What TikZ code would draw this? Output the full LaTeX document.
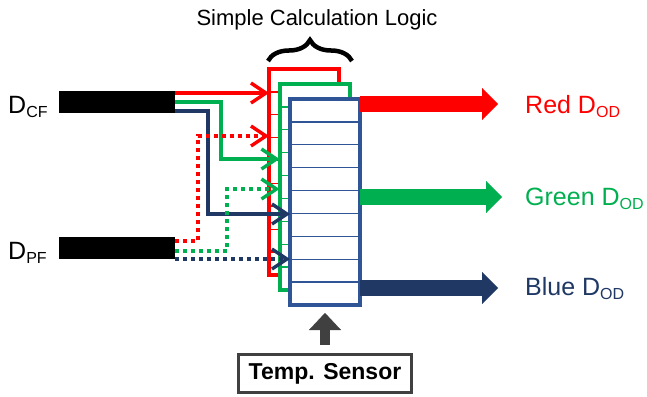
\documentclass[tikz,border=0pt]{standalone}
\usepackage{fontspec}
\setmainfont{Liberation Sans}
\usetikzlibrary{arrows.meta,calc,decorations.pathreplacing}
\definecolor{cred}{HTML}{FF0000}
\definecolor{cgreen}{HTML}{00B050}
\definecolor{cnavy}{HTML}{1F3864}
\definecolor{cbox}{HTML}{2F5597}
\definecolor{cgray}{HTML}{404040}
\newcommand\lsub[1]{\raisebox{-4.5pt}{\fontsize{16}{16}\selectfont #1}}
\begin{document}
\begin{tikzpicture}[x=1pt,y=-1pt,
  bar/.style={fill=black, minimum width=116pt, minimum height=22pt, inner sep=0pt, outer sep=0pt},
  stack/.style={draw=#1, fill=white, minimum width=70pt, minimum height=206pt, inner sep=0pt, outer sep=0pt},
  conn/.style={line width=3.4pt, draw=#1, -{Straight Barb[length=15pt,width=20pt]}},
  dotc/.style={conn=#1, dash pattern=on 4pt off 4pt},
  fat/.style={line width=16pt, draw=#1, -{Triangle[length=16pt,width=32pt,line width=0.1pt]}},
  lbl/.style={anchor=base west, inner sep=0pt, font=\fontsize{25}{30}\selectfont, text=#1},
]
\useasboundingbox (0,0) rectangle (647,396);
\fill[white] (0,0) rectangle (647,396);

% title and brace
\node[font=\fontsize{22}{26}\selectfont] (title) at (317,20) {Simple Calculation Logic};
\draw[decorate, decoration={brace, amplitude=21pt}, line width=4.5pt] (268,61) -- (352,61);

% stacked logic boxes
\foreach \n/\c/\px/\py/\lw in {rbox/cred/304/172/4, gbox/cgreen/314.5/187/4, bbox/cbox/325/202/4.2} {
  \node[stack=\c, line width=\lw pt] (\n) at (\px,\py) {};
  \foreach \k in {1,...,8}
    \draw[\c, line width=1.3pt] ($(\n.north west)!\k/9!(\n.south west)$) -- ($(\n.north east)!\k/9!(\n.south east)$);
}

% input bars and labels
\node[bar] (dcf) at (117,102) {};
\node[bar] (dpf) at (117,248) {};
\node[anchor=base west, inner sep=0pt, font=\fontsize{25}{30}\selectfont] (lcf) at (8,113) {D\lsub{CF}};
\node[anchor=base west, inner sep=0pt, font=\fontsize{25}{30}\selectfont] (lpf) at (8,259) {D\lsub{PF}};

% solid connectors from D_CF
\draw[conn=cred] ($(dcf.east)+(0,-9)$) -- (rbox.west |- 0,93);
\draw[conn=cgreen] (dcf.east) -| (221,159) -- (gbox.west |- 0,159);
\draw[conn=cnavy] ($(dcf.east)+(0,9)$) -| (208,214) -- (bbox.west |- 0,214);

% dotted connectors from D_PF
\draw[dotc=cred] ($(dpf.east)+(0,-7)$) -| (198,136) -- (rbox.west |- 0,136);
\draw[dotc=cgreen] ($(dpf.east)+(0,3)$) -| (227,189) -- (gbox.west |- 0,189);
\draw[dotc=cnavy] ($(dpf.east)+(0,11)$) -- (bbox.west |- 0,259);

% outputs
\node[lbl=cred] (lr) at (525,113) {Red D\lsub{OD}};
\node[lbl=cgreen] (lg) at (525,205) {Green D\lsub{OD}};
\node[lbl=cnavy] (lb) at (525,295) {Blue D\lsub{OD}};
\coordinate (rend) at (498,104);
\coordinate (gend) at (502,197);
\coordinate (bend) at (498,288);
\draw[fat=cred] (bbox.east |- rend) -- (rend);
\draw[fat=cgreen] (bbox.east |- gend) -- (gend);
\draw[fat=cnavy] (bbox.east |- bend) -- (bend);

% temperature sensor
\node[draw=cgray, line width=3pt, minimum width=173pt, minimum height=38pt, inner sep=0pt, outer sep=0pt,
      font=\fontsize{23}{27}\selectfont\bfseries] (sensor) at (325,373.5) {\raisebox{-3.5pt}{Temp. Sensor}};
\draw[line width=10pt, cgray, -{Triangle[length=17pt,width=32pt,line width=0.1pt]}, shorten <=9.5pt, shorten >=8pt]
  (sensor.north) -- (bbox.south);
\end{tikzpicture}
\end{document}
